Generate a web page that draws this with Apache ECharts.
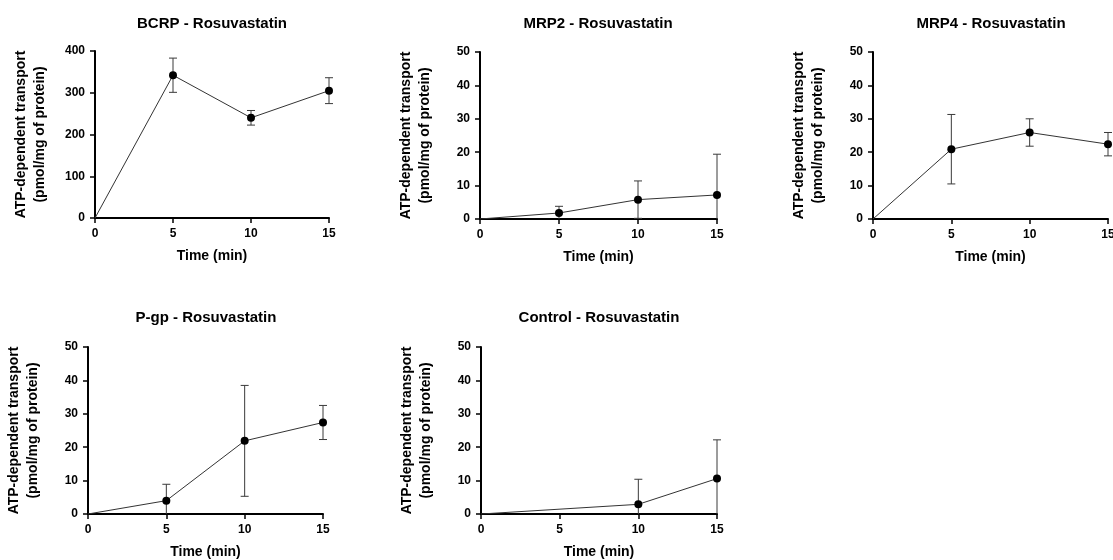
<!DOCTYPE html>
<html>
<head>
<meta charset="utf-8">
<script src="https://cdn.jsdelivr.net/npm/echarts@6/dist/echarts.min.js"></script>
<style>
html, body { margin: 0; padding: 0; background: #fff; }
#chart { width: 1113px; height: 560px; }
</style>
</head>
<body>
<div id="chart"></div>
<script>
// data (mean, SD)
var times = [0, 5, 10, 15];
var controlTimes = [0, 10, 15];

var bcrpMean = [0, 342, 240, 305];
var bcrpSd = [0, 41, 17.5, 31];

var mrp2Mean = [0, 1.8, 5.8, 7.2];
var mrp2Sd = [0, 2.0, 5.6, 12.2];

var mrp4Mean = [0, 20.9, 25.9, 22.4];
var mrp4Sd = [0, 10.4, 4.1, 3.5];

var pgpMean = [0, 4.0, 21.9, 27.4];
var pgpSd = [0, 4.9, 16.6, 5.1];

var controlMean = [0, 2.9, 10.6];
var controlSd = [0, 7.5, 11.6];

var titles = ['BCRP - Rosuvastatin', 'MRP2 - Rosuvastatin', 'MRP4 - Rosuvastatin', 'P-gp - Rosuvastatin', 'Control - Rosuvastatin'];
var yMax = [400, 50, 50, 50, 50];
var yStep = [100, 10, 10, 10, 10];

var panels = [
	{ t: times, m: bcrpMean, sd: bcrpSd, box: [95, 51, 234, 167], tc: [212, 16] },
	{ t: times, m: mrp2Mean, sd: mrp2Sd, box: [480, 52, 237, 167], tc: [598, 16] },
	{ t: times, m: mrp4Mean, sd: mrp4Sd, box: [873, 52, 235, 167], tc: [991, 16] },
	{ t: times, m: pgpMean, sd: pgpSd, box: [88, 347, 235, 167], tc: [206, 310] },
	{ t: controlTimes, m: controlMean, sd: controlSd, box: [481, 347, 236, 167], tc: [599, 310] }
];

var FONT = '"Liberation Sans", Arial, sans-serif';

var option = {
	animation: false,
	backgroundColor: '#fff',
	title: [],
	grid: [],
	xAxis: [],
	yAxis: [],
	series: []
};

function errorBars(params, api) {
	var x = api.value(0), m = api.value(1), e = api.value(2);
	if (!e) return { type: 'group', children: [] };
	var lowVal = m - e;
	var top = api.coord([x, m + e]);
	var bot = api.coord([x, Math.max(lowVal, 0)]);
	var st = { stroke: '#3a3a3a', lineWidth: 1 };
	var kids = [
		{ type: 'line', shape: { x1: top[0], y1: top[1], x2: bot[0], y2: bot[1] }, style: st },
		{ type: 'line', shape: { x1: top[0] - 4, y1: top[1], x2: top[0] + 4, y2: top[1] }, style: st }
	];
	if (lowVal >= 0) {
		kids.push({ type: 'line', shape: { x1: bot[0] - 4, y1: bot[1], x2: bot[0] + 4, y2: bot[1] }, style: st });
	}
	return { type: 'group', children: kids };
}

panels.forEach(function (p, i) {
	option.title.push({
		text: titles[i],
		left: p.tc[0],
		top: p.tc[1],
		textAlign: 'center',
		padding: 0,
		textStyle: { fontFamily: FONT, fontSize: 15, fontWeight: 'bold', color: '#000' }
	});
	option.grid.push({
		left: p.box[0], top: p.box[1], width: p.box[2], height: p.box[3],
		containLabel: false, outerBoundsMode: 'none'
	});
	option.xAxis.push({
		type: 'value', gridIndex: i, min: 0, max: 15, interval: 5,
		name: 'Time (min)', nameLocation: 'middle', nameGap: 31,
		nameTextStyle: { fontFamily: FONT, fontSize: 14, fontWeight: 'bold', color: '#000' },
		axisLine: { show: true, onZero: false, lineStyle: { color: '#000', width: 2 } },
		axisTick: { show: true, length: 5, lineStyle: { color: '#000', width: 1.5 } },
		axisLabel: { margin: 10, fontFamily: FONT, fontSize: 12, fontWeight: 'bold', color: '#000' },
		splitLine: { show: false }
	});
	option.yAxis.push({
		type: 'value', gridIndex: i, min: 0, max: yMax[i], interval: yStep[i],
		name: 'ATP-dependent transport\n(pmol/mg of protein)', nameLocation: 'middle', nameGap: 45, nameRotate: 90,
		nameTextStyle: { fontFamily: FONT, fontSize: 14, fontWeight: 'bold', color: '#000', lineHeight: 19 },
		axisLine: { show: true, onZero: false, lineStyle: { color: '#000', width: 2 } },
		axisTick: { show: true, length: 5, lineStyle: { color: '#000', width: 1.5 } },
		axisLabel: { margin: 10, fontFamily: FONT, fontSize: 12, fontWeight: 'bold', color: '#000' },
		splitLine: { show: false }
	});

	var lineData = [], errData = [];
	for (var k = 0; k < p.t.length; k++) {
		if (p.t[k] === 0) lineData.push({ value: [p.t[k], p.m[k]], symbol: 'none' });
		else lineData.push([p.t[k], p.m[k]]);
		errData.push([p.t[k], p.m[k], p.sd[k]]);
	}
	option.series.push({
		type: 'custom', xAxisIndex: i, yAxisIndex: i, z: 1,
		renderItem: errorBars, data: errData, clip: false
	});
	option.series.push({
		type: 'line', xAxisIndex: i, yAxisIndex: i, z: 3,
		data: lineData, symbol: 'circle', symbolSize: 8,
		lineStyle: { color: '#333', width: 1 },
		itemStyle: { color: '#000' }
	});
});

var myChart = echarts.init(document.getElementById('chart'));
myChart.setOption(option);
</script>
</body>
</html>
